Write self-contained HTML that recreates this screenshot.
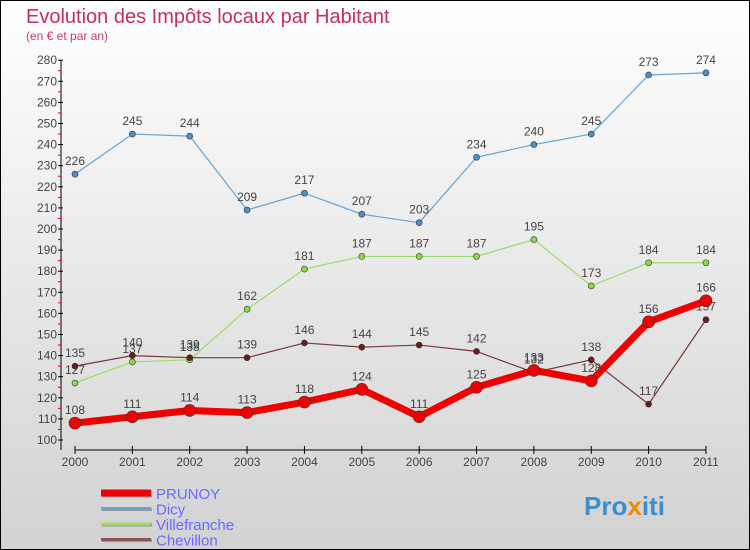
<!DOCTYPE html>
<html><head><meta charset="utf-8"><style>
body{margin:0}
#wrap{width:748px;height:548px;border:1px solid #000;background:linear-gradient(#fff,#d2d2d2);position:relative;font-family:"Liberation Sans",sans-serif;overflow:hidden}
</style></head><body>
<div id="wrap">
<svg id="c" width="748" height="548" xmlns="http://www.w3.org/2000/svg"></svg>
</div>
<script>
const years=["2000","2001","2002","2003","2004","2005","2006","2007","2008","2009","2010","2011"];
const prunoy=[108,111,114,113,118,124,111,125,133,128,156,166];
const dicy=[226,245,244,209,217,207,203,234,240,245,273,274];
const villefranche=[127,137,138,162,181,187,187,187,195,173,184,184];
const chevillon=[135,140,139,139,146,144,145,142,132,138,117,157];
const yTicks=[100,110,120,130,140,150,160,170,180,190,200,210,220,230,240,250,260,270,280];
const NS="http://www.w3.org/2000/svg";
const svg=document.getElementById('c');
const X=i=>74+i*57.36;
const Y=v=>439-(v-100)*2.11;
function el(t,a,p){const e=document.createElementNS(NS,t);for(const k in a)e.setAttribute(k,a[k]);(p||svg).appendChild(e);return e;}
let t=el('text',{x:25,y:22,'font-size':20,fill:'#c0305e'});t.textContent='Evolution des Impôts locaux par Habitant';

t=el('text',{x:25,y:39,'font-size':12,fill:'#c0406e'});t.textContent='(en € et par an)';

// axes
let a=el('line',{x1:60,y1:Y(280),x2:60,y2:449,stroke:'#000'});

a=el('line',{x1:74,y1:449,x2:X(11),y2:449,stroke:'#000'});

yTicks.forEach(v=>{
 el('line',{x1:57,x2:62,y1:Y(v),y2:Y(v),stroke:'#000'});
 if(v<280)el('line',{x1:57,x2:60,y1:Y(v+5),y2:Y(v+5),stroke:'#e00'});
 const tx=el('text',{x:56,y:Y(v)+4,'font-size':12,fill:'#444','text-anchor':'end'});tx.textContent=v;
 
});
years.forEach((y,i)=>{
 el('line',{x1:X(i),x2:X(i),y1:445,y2:453,stroke:'#000'});
 const tx=el('text',{x:X(i),y:465,'font-size':12,fill:'#444','text-anchor':'middle'});tx.textContent=y;
 
});
function series(data,color,w,r,name,dot,lab){
 const g=el('g',{});
 const p=el('polyline',{points:data.map((v,i)=>X(i)+','+Y(v)).join(' '),fill:'none',stroke:color,'stroke-width':w,'stroke-linejoin':'round'},g);
 
 data.forEach((v,i)=>{
  const c=el('circle',{cx:X(i),cy:Y(v),r:r,fill:dot,stroke:'#333','stroke-width':0.6},g);
  
  const tx=el('text',{x:X(i),y:Y(v)-9,'font-size':12,fill:'#444','text-anchor':'middle'},g);tx.textContent=v;
  
 });
}
series(dicy,'#6aa3d0',1.2,3,'dicy','#4a90d0');
series(villefranche,'#99dd66',1.2,3,'villefranche','#88dd44');
series(chevillon,'#7a3838',1.2,3,'chevillon','#6a1c1c');
series(prunoy,'#ee0000',7,6,'prunoy','#ee0000');
const legend=[["PRUNOY","#ee0000",7],["Dicy","#6aa3d0",3],["Villefranche","#99dd66",3],["Chevillon","#8a5858",3]];
legend.forEach((l,i)=>{
 const g=el('g',{});
 const yy=492+i*15.5;
 el('line',{x1:101,x2:151,y1:yy+1,y2:yy+1,stroke:'#999','stroke-width':l[2]},g);
 el('line',{x1:100,x2:150,y1:yy,y2:yy,stroke:l[1],'stroke-width':l[2]},g);
 const tx=el('text',{x:155,y:yy+6,'font-size':15,fill:'#6a6aff'},g);tx.textContent=l[0];
});
const lg=el('text',{x:583,y:514,'font-size':26,'font-weight':'bold',fill:'#3a8fd0'});

[["Pro","#3a8fd0"],["x","#f08a00"],["iti","#3a8fd0"]].forEach(s=>{const ts=el('tspan',{fill:s[1]},lg);ts.textContent=s[0];});
</script>
</body></html>
